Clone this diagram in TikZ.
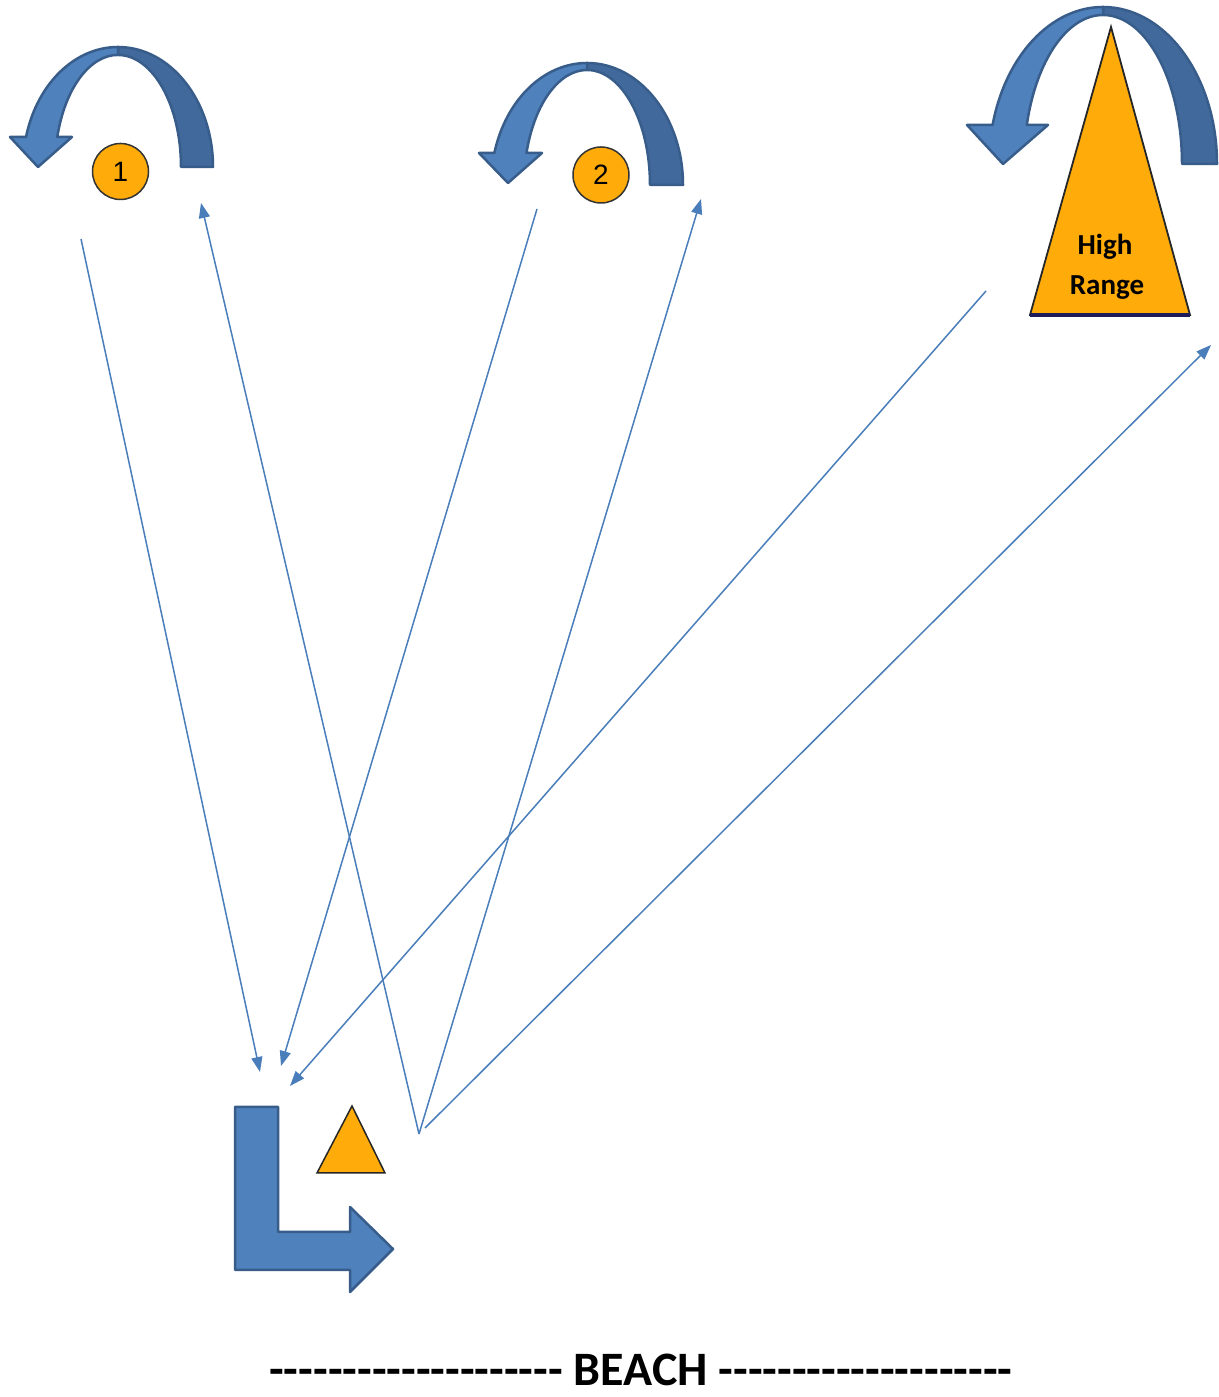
\documentclass[tikz,border=0pt]{standalone}
\usepackage{fontspec}
\setmainfont{Carlito}
\newfontfamily\arialfont{Liberation Sans}
\usetikzlibrary{arrows.meta}
\definecolor{blueL}{HTML}{4F81BD}
\definecolor{blueD}{HTML}{41699B}
\definecolor{blueO}{HTML}{385D8A}
\definecolor{lineB}{HTML}{4A7EBB}
\definecolor{orng}{HTML}{FFAC0A}
\definecolor{navy}{HTML}{1C1C5A}
\newcommand\hyph{-\kern0pt}
\newcommand\hyfive{\hyph\hyph\hyph\hyph\hyph}
\newcommand\hytwenty{\hyfive\hyfive\hyfive\hyfive}
\tikzset{
  ribbonD/.style={fill=blueD, draw=blueO, line width=2.5pt, line join=round},
  ribbonL/.style={fill=blueL, draw=blueO, line width=2.5pt, line join=round},
  conn/.style={draw=lineB, line width=1.5pt, -{Triangle[length=15pt,width=11pt]}},
  marker/.style={circle, draw=black!80, line width=1.5pt, fill=orng, minimum size=56pt, inner sep=0pt, font=\arialfont\fontsize{28}{30}\selectfont},
  tri/.style={fill=orng, draw=black!85, line width=1.8pt, line join=miter},
  lbl/.style={font=\bfseries\fontsize{29}{32}\selectfont, anchor=base},
}
\begin{document}
\begin{tikzpicture}[x=1pt,y=1pt]
\useasboundingbox (0,0) rectangle (1218,1397);
\fill[white] (0,0) rectangle (1218,1397);

% ---- curved arrow 1
\draw[ribbonD] (213,1230) arc[start angle=0,end angle=90,x radius=95,y radius=120]
  -- (118,1342) arc[start angle=90,end angle=0,x radius=63,y radius=112] -- cycle;
\draw[ribbonL] (118,1350) arc[start angle=90,end angle=165.5,x radius=95,y radius=120]
  -- (10,1260) -- (38,1230) -- (72,1260) -- (57.3,1260)
  arc[start angle=164.5,end angle=90,x radius=63,y radius=112] -- cycle;

% ---- curved arrow 2
\draw[ribbonD] (683,1212) arc[start angle=0,end angle=90,x radius=96,y radius=122]
  -- (587,1327) arc[start angle=90,end angle=0,x radius=63,y radius=115] -- cycle;
\draw[ribbonL] (587,1334) arc[start angle=90,end angle=164.8,x radius=96,y radius=122]
  -- (479,1244) -- (508,1214) -- (542,1244) -- (526.5,1244)
  arc[start angle=163.85,end angle=90,x radius=63,y radius=115] -- cycle;

% ---- curved arrow 3
\draw[ribbonD] (1217,1233) arc[start angle=0,end angle=90,x radius=114,y radius=157]
  -- (1103,1382) arc[start angle=90,end angle=0,x radius=79,y radius=149] -- cycle;
\draw[ribbonL] (1103,1390) arc[start angle=90,end angle=165.6,x radius=114,y radius=157]
  -- (967,1272) -- (1003,1233) -- (1048,1272) -- (1026.8,1272)
  arc[start angle=164.83,end angle=90,x radius=79,y radius=149] -- cycle;

% ---- markers
\node[marker] (m1) at (120.5,1225.5) {1};
\node[marker] (m2) at (601,1222) {2};

% ---- High Range triangle
\coordinate (hrA) at (1111,1370);
\coordinate (hrL) at (1030,1082);
\coordinate (hrR) at (1190,1082);
\draw[tri] (hrL) -- (hrA) -- (hrR) -- cycle;
\draw[navy, line width=4pt] (hrL) -- (hrR);
\node[lbl] (hrt1) at (1105,1142) {High};
\node[lbl] (hrt2) at (1107,1102) {Range};

% ---- small triangle
\coordinate (stA) at (352,291);
\coordinate (stL) at (317,224);
\coordinate (stR) at (385,224);
\draw[tri, line width=1.5pt] (stL) -- (stA) -- (stR) -- cycle;

% ---- bent arrow
\draw[ribbonL] (235,290) -- (278,290) -- (278,165) -- (350,165) -- (350,190)
  -- (393,148) -- (350,105) -- (350,127) -- (235,127) -- cycle;

% ---- connectors
\coordinate (a1) at (81,1158);   \coordinate (a2) at (260,325);
\coordinate (b1) at (419,263);   \coordinate (b2) at (201,1194);
\coordinate (c1) at (537,1188);  \coordinate (c2) at (281,331);
\coordinate (d1) at (419,263);   \coordinate (d2) at (701,1198);
\coordinate (e1) at (986,1106);  \coordinate (e2) at (290,311);
\coordinate (f1) at (425,269);   \coordinate (f2) at (1211,1052);
\draw[conn] (a1) -- (a2);
\draw[conn] (b1) -- (b2);
\draw[conn] (c1) -- (c2);
\draw[conn] (d1) -- (d2);
\draw[conn] (e1) -- (e2);
\draw[conn] (f1) -- (f2);

% ---- beach label
\node[font=\bfseries\fontsize{48}{50}\selectfont, anchor=base, inner sep=0pt, text depth=0pt] (beach) at (641,12)
  {\hytwenty{} BEACH \hytwenty};
\end{tikzpicture}
\end{document}
